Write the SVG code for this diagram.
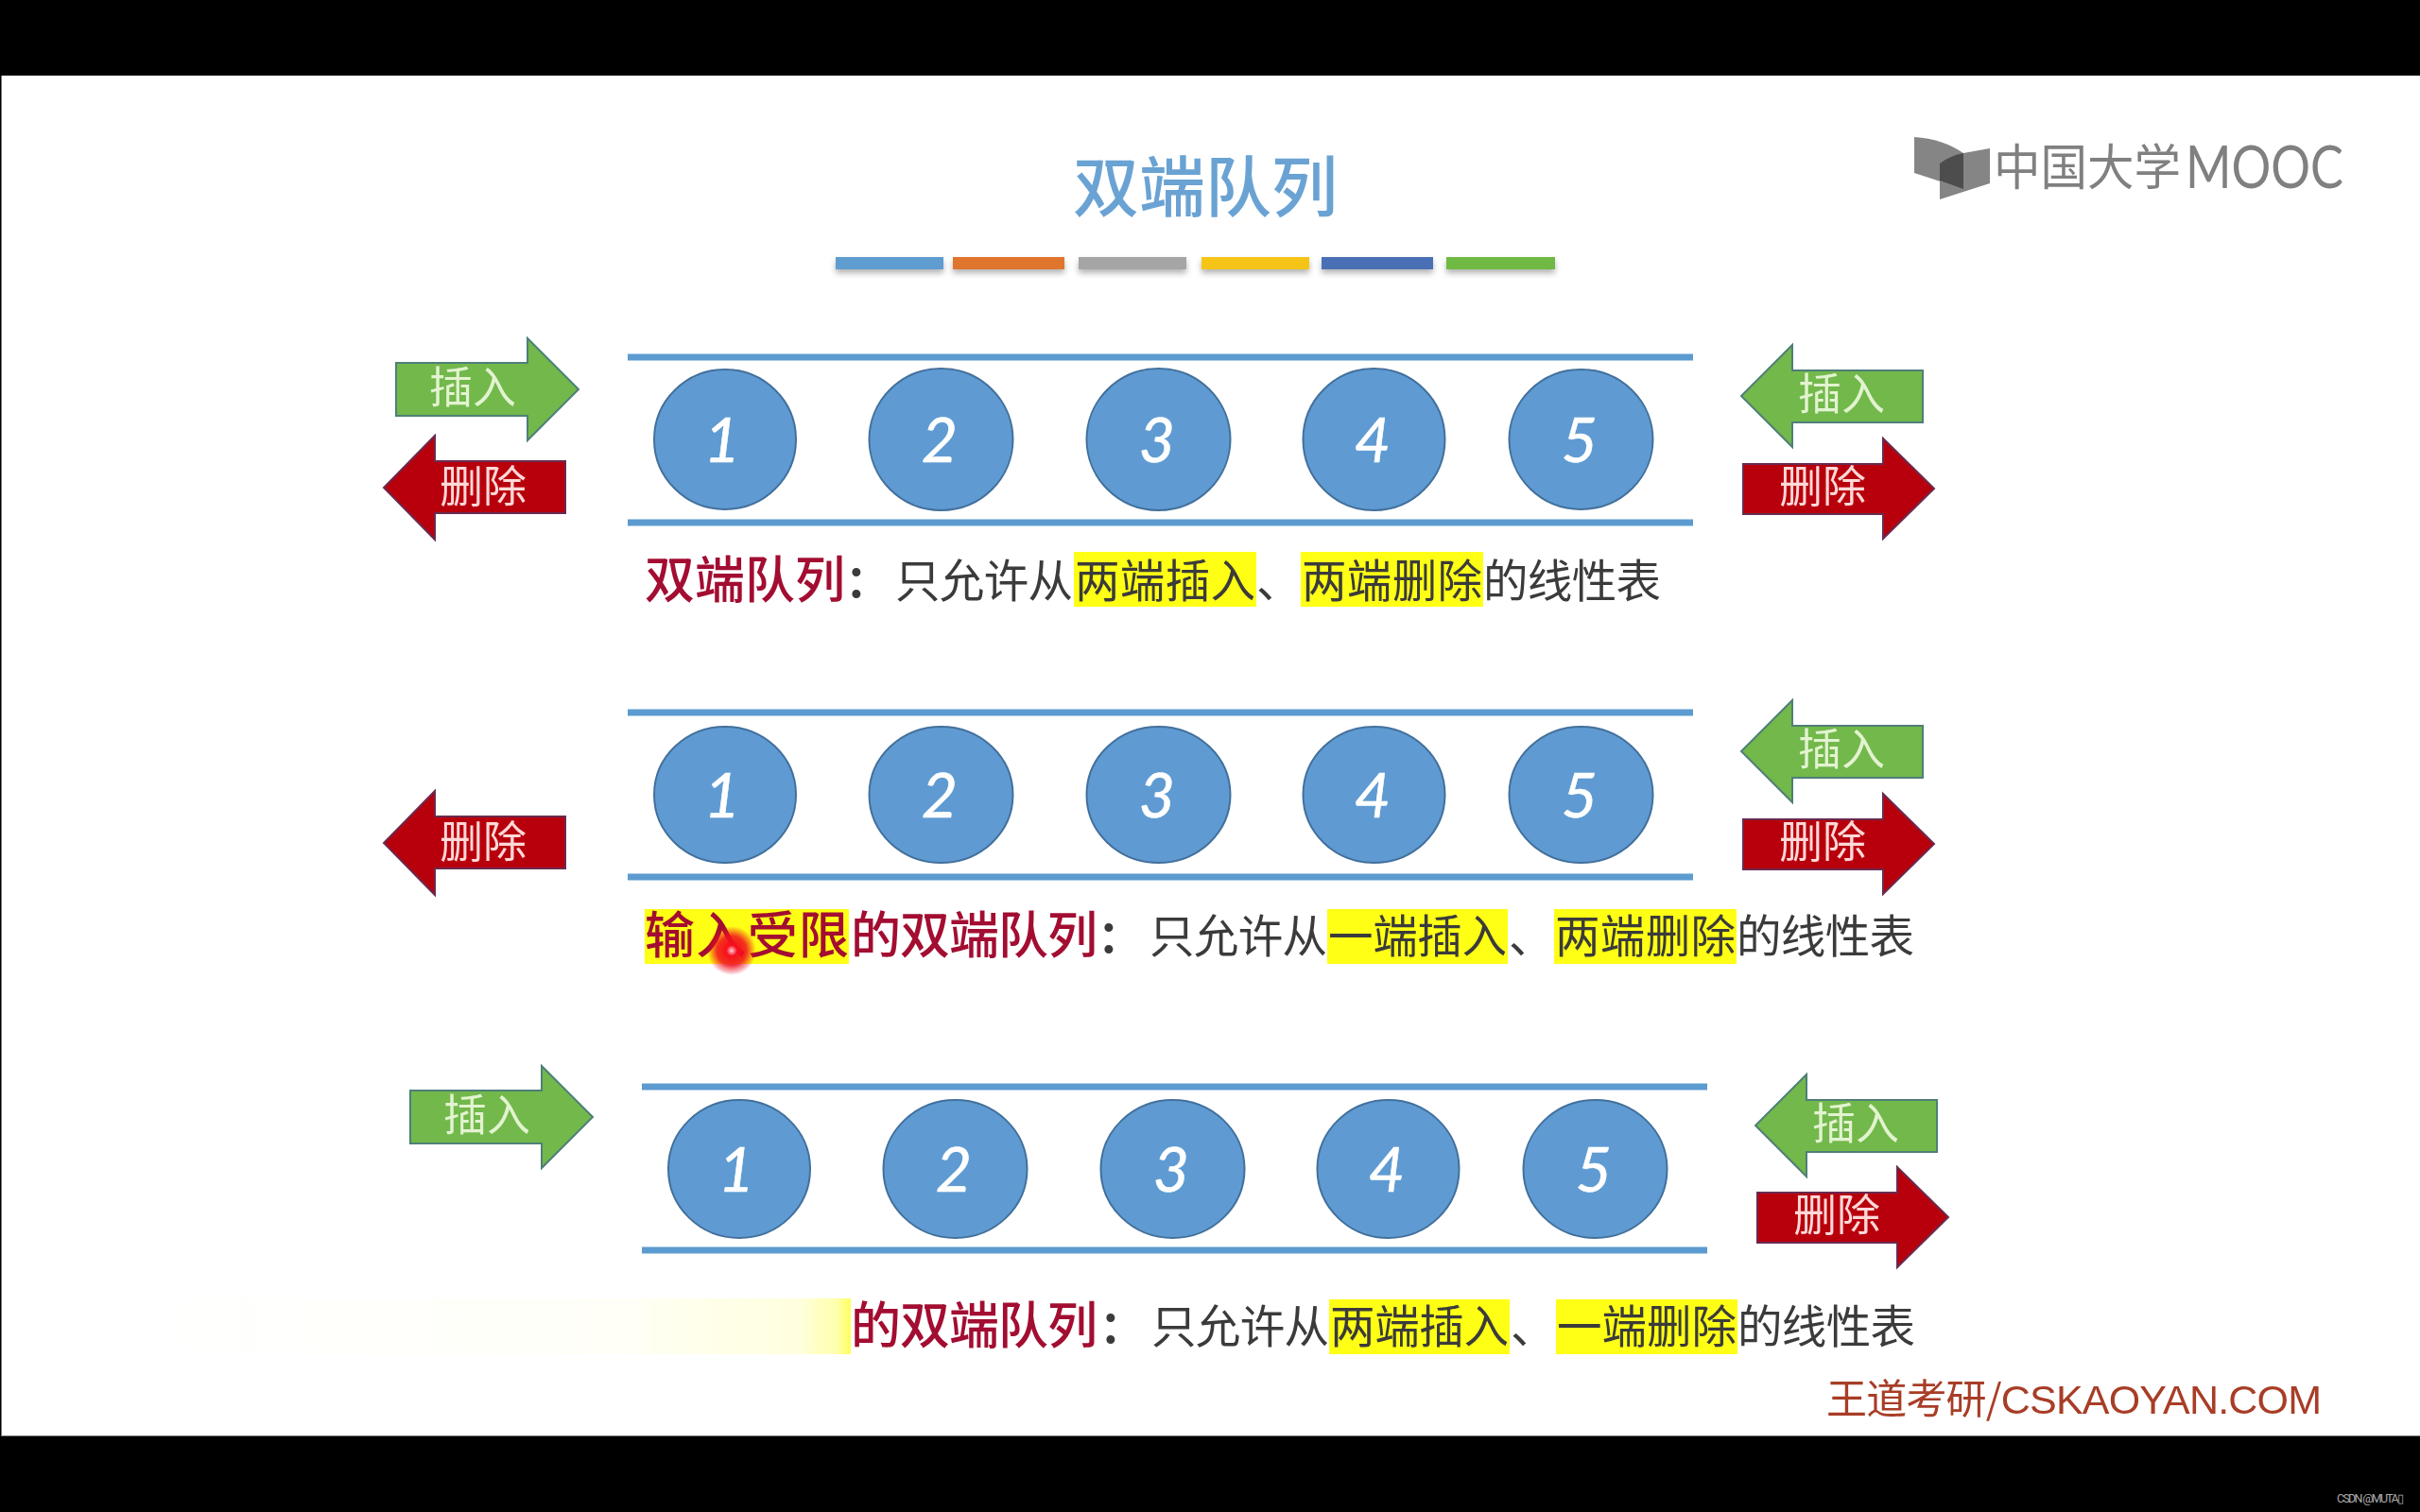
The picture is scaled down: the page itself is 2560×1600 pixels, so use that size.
<svg xmlns="http://www.w3.org/2000/svg" width="2560" height="1600" viewBox="0 0 2560 1600">
<style>
text{font-family:"Noto Sans CJK SC","Liberation Sans",sans-serif}
.g{fill:#72b84b;stroke:#4f7f78;stroke-width:2}
.r{fill:#b80008;stroke:#6a2a50;stroke-width:2}
.gt{fill:#e2f3d0;font-size:46px;text-anchor:middle}
.rt{fill:#ffd8d8;font-size:46px;text-anchor:middle}
.line{stroke:#5b9bd0;stroke-width:7}
.c{fill:#5f9bd2;stroke:#43709c;stroke-width:2}
.n{fill:#fff;stroke:#fff;stroke-width:.6;font-family:Lato,"Liberation Sans",sans-serif;font-style:italic;font-size:66px;text-anchor:middle}
.hl{fill:#ffff14}
.red{fill:#a30e30;font-size:53px;font-weight:500}
.txt{fill:#3a3a3a;font-size:47.5px}
.bar{filter:url(#sh)}
</style>
<defs>
<filter id="soft" x="0" y="0" width="100%" height="100%"><feGaussianBlur stdDeviation="0.7"/></filter>
<filter id="sh" x="-10%" y="-50%" width="120%" height="220%"><feDropShadow dx="0" dy="4" stdDeviation="3" flood-color="#000" flood-opacity=".3"/></filter>
<linearGradient id="wipe" x1="0" x2="1" y1="0" y2="0"><stop offset="0" stop-color="#ffff14" stop-opacity="0"/><stop offset=".7" stop-color="#ffff14" stop-opacity=".03"/><stop offset=".71" stop-color="#ffff14" stop-opacity=".05"/><stop offset=".93" stop-color="#ffff14" stop-opacity=".13"/><stop offset=".98" stop-color="#ffff14" stop-opacity=".36"/><stop offset="1" stop-color="#ffff14" stop-opacity=".68"/></linearGradient>
<radialGradient id="dot"><stop offset="0" stop-color="#ffd0d8"/><stop offset=".22" stop-color="#f8101f"/><stop offset=".6" stop-color="#f01020" stop-opacity=".85"/><stop offset="1" stop-color="#ee1020" stop-opacity="0"/></radialGradient>
</defs>
<rect width="2560" height="1600" fill="#000"/>
<rect x="1" y="80" width="2559" height="1440" fill="#777"/>
<rect x="2" y="80" width="2558" height="1439" fill="#fff"/>
<g filter="url(#soft)">
<g id="title">
<text x="1275" y="224" font-size="70" fill="#6ba3d3" text-anchor="middle" font-weight="500">双端队列</text>
<rect class="bar" x="884" y="272" width="114" height="13" fill="#5f9ccf"/>
<rect class="bar" x="1008" y="272" width="118" height="13" fill="#e0752f"/>
<rect class="bar" x="1141" y="272" width="114" height="13" fill="#a5a5a5"/>
<rect class="bar" x="1271" y="272" width="114" height="13" fill="#f6c414"/>
<rect class="bar" x="1398" y="272" width="118" height="13" fill="#4a6fb5"/>
<rect class="bar" x="1530" y="272" width="115" height="13" fill="#6fb943"/>
</g>

<g id="logo">
<path d="M2025 145Q2055 147 2077 162V200L2025 183Z" fill="#858585"/>
<path d="M2052 173Q2062 165 2077 162L2105 157V194L2052 211Z" fill="#858585"/>
<path d="M2052 173Q2062 165 2077 162V200L2052 191Z" fill="#4e4e4e"/>
<text x="2109" y="196" font-size="52" fill="#808080" textLength="198" lengthAdjust="spacingAndGlyphs">中国大学</text>
<text x="2312" y="199" font-size="62" fill="#808080" style="font-family:Lato,sans-serif;font-weight:400" textLength="167" lengthAdjust="spacingAndGlyphs">MOOC</text>
</g>

<g id="connectors">
<line class="line" x1="664" y1="378" x2="1791" y2="378"/><line class="line" x1="664" y1="553" x2="1791" y2="553"/>
<line class="line" x1="664" y1="754" x2="1791" y2="754"/><line class="line" x1="664" y1="928" x2="1791" y2="928"/>
<line class="line" x1="679" y1="1150" x2="1806" y2="1150"/><line class="line" x1="679" y1="1323" x2="1806" y2="1323"/>
</g>

<g id="row1">
<g id="r1-insert-left"><polygon class="g" points="419,384 558,384 558,358 612,412 558,466 558,440 419,440"/><text class="gt" x="500" y="426">插入</text></g>
<g id="r1-delete-left"><polygon class="r" points="598,488 460,488 460,461 406,516 460,571 460,543 598,543"/><text class="rt" x="511" y="531">删除</text></g>
<g id="r1-insert-right"><polygon class="g" points="2034,392 1896,392 1896,365 1842,419 1896,473 1896,447 2034,447"/><text class="gt" x="1948" y="433">插入</text></g>
<g id="r1-delete-right"><polygon class="r" points="1844,491 1992,491 1992,464 2046,517 1992,570 1992,544 1844,544"/><text class="rt" x="1928" y="531">删除</text></g>
<g id="r1-n1"><ellipse class="c" cx="767" cy="465" rx="75" ry="74"/><text class="n" x="764" y="489">1</text></g>
<g id="r1-n2"><ellipse class="c" cx="995.500" cy="465" rx="76" ry="75"/><text class="n" x="994" y="489">2</text></g>
<g id="r1-n3"><ellipse class="c" cx="1225.500" cy="465" rx="76" ry="75"/><text class="n" x="1224" y="489">3</text></g>
<g id="r1-n4"><ellipse class="c" cx="1453.500" cy="465" rx="75" ry="75"/><text class="n" x="1452" y="489">4</text></g>
<g id="r1-n5"><ellipse class="c" cx="1672.500" cy="465" rx="76" ry="74"/><text class="n" x="1671" y="489">5</text></g>
<g id="r1-caption">
<rect class="hl" x="1136" y="584" width="193" height="58"/><rect class="hl" x="1376" y="584" width="193" height="58"/>
<text class="red" x="682" y="633" textLength="212">双端队列</text>
<text class="txt" x="894" y="632" font-weight="700">：</text>
<text class="txt" x="947" y="632" textLength="188">只允许从</text>
<text class="txt" x="1137" y="632" textLength="191">两端插入</text>
<text class="txt" x="1329" y="632">、</text>
<text class="txt" x="1377" y="632" textLength="191">两端删除</text>
<text class="txt" x="1569" y="632" textLength="188">的线性表</text>
</g>
</g>

<g id="row2">
<g id="r2-delete-left" transform="translate(0,376)"><polygon class="r" points="598,488 460,488 460,461 406,516 460,571 460,543 598,543"/><text class="rt" x="511" y="531">删除</text></g>
<g id="r2-insert-right" transform="translate(0,376)"><polygon class="g" points="2034,392 1896,392 1896,365 1842,419 1896,473 1896,447 2034,447"/><text class="gt" x="1948" y="433">插入</text></g>
<g id="r2-delete-right" transform="translate(0,376)"><polygon class="r" points="1844,491 1992,491 1992,464 2046,517 1992,570 1992,544 1844,544"/><text class="rt" x="1928" y="531">删除</text></g>
<g id="r2-n1"><ellipse class="c" cx="767" cy="841" rx="75" ry="72"/><text class="n" x="764" y="865">1</text></g>
<g id="r2-n2"><ellipse class="c" cx="995.500" cy="841" rx="76" ry="72"/><text class="n" x="994" y="865">2</text></g>
<g id="r2-n3"><ellipse class="c" cx="1225.500" cy="841" rx="76" ry="72"/><text class="n" x="1224" y="865">3</text></g>
<g id="r2-n4"><ellipse class="c" cx="1453.500" cy="841" rx="75" ry="72"/><text class="n" x="1452" y="865">4</text></g>
<g id="r2-n5"><ellipse class="c" cx="1672.500" cy="841" rx="76" ry="72"/><text class="n" x="1671" y="865">5</text></g>
<g id="r2-caption">
<rect class="hl" x="682" y="962" width="216" height="58"/><rect class="hl" x="1404" y="962" width="191" height="58"/><rect class="hl" x="1644" y="962" width="193" height="58"/>
<text class="red" x="682" y="1009" textLength="216">输入受限</text>
<text class="red" x="900" y="1009" textLength="261">的双端队列</text>
<text class="txt" x="1161" y="1008" font-weight="700">：</text>
<text class="txt" x="1216" y="1008" textLength="188">只允许从</text>
<text class="txt" x="1405" y="1008" textLength="189">一端插入</text>
<text class="txt" x="1596" y="1008">、</text>
<text class="txt" x="1645" y="1008" textLength="191">两端删除</text>
<text class="txt" x="1837" y="1008" textLength="188">的线性表</text>
</g>
</g>

<g id="row3">
<g id="r3-insert-left" transform="translate(15,770)"><polygon class="g" points="419,384 558,384 558,358 612,412 558,466 558,440 419,440"/><text class="gt" x="500" y="426">插入</text></g>
<g id="r3-insert-right" transform="translate(15,772)"><polygon class="g" points="2034,392 1896,392 1896,365 1842,419 1896,473 1896,447 2034,447"/><text class="gt" x="1948" y="433">插入</text></g>
<g id="r3-delete-right" transform="translate(15,771)"><polygon class="r" points="1844,491 1992,491 1992,464 2046,517 1992,570 1992,544 1844,544"/><text class="rt" x="1928" y="531">删除</text></g>
<g id="r3-n1"><ellipse class="c" cx="782" cy="1237" rx="75" ry="73"/><text class="n" x="779" y="1261">1</text></g>
<g id="r3-n2"><ellipse class="c" cx="1010.500" cy="1237" rx="76" ry="73"/><text class="n" x="1009" y="1261">2</text></g>
<g id="r3-n3"><ellipse class="c" cx="1240.500" cy="1237" rx="76" ry="73"/><text class="n" x="1239" y="1261">3</text></g>
<g id="r3-n4"><ellipse class="c" cx="1468.500" cy="1237" rx="75" ry="73"/><text class="n" x="1467" y="1261">4</text></g>
<g id="r3-n5"><ellipse class="c" cx="1687.500" cy="1237" rx="76" ry="73"/><text class="n" x="1686" y="1261">5</text></g>
<g id="r3-caption">
<rect x="150" y="1374" width="750" height="59" fill="url(#wipe)"/>
<rect class="hl" x="1406" y="1375" width="191" height="58"/><rect class="hl" x="1646" y="1375" width="192" height="58"/>
<text class="red" x="900" y="1422" textLength="261">的双端队列</text>
<text class="txt" x="1163" y="1421" font-weight="700">：</text>
<text class="txt" x="1218" y="1421" textLength="188">只允许从</text>
<text class="txt" x="1407" y="1421" textLength="189">两端插入</text>
<text class="txt" x="1598" y="1421">、</text>
<text class="txt" x="1647" y="1421" textLength="190">一端删除</text>
<text class="txt" x="1838" y="1421" textLength="188">的线性表</text>
</g>
</g>

<circle id="pointer" cx="774" cy="1006" r="26" fill="url(#dot)"/>

<text id="brand" x="1932" y="1496" font-size="43" fill="#a83c28" textLength="524">王道考研/<tspan style="font-family:'Liberation Sans',sans-serif">CSKAOYAN.COM</tspan></text>
</g>
<text id="credit" x="2472" y="1590" font-size="12.500" fill="#aaa" style="font-family:Roboto,sans-serif" textLength="71">CSDN @MUTA▯</text>
</svg>
